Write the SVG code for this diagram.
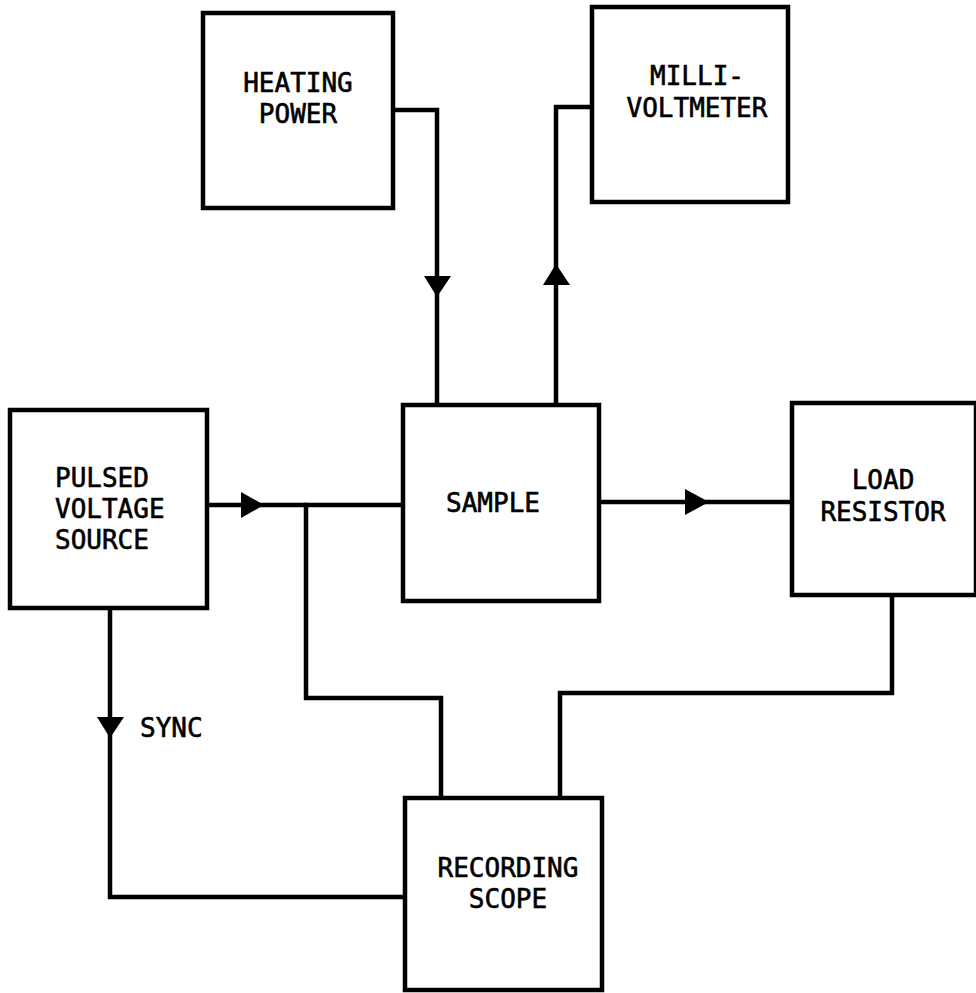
<svg xmlns="http://www.w3.org/2000/svg" width="976" height="993" viewBox="0 0 976 993">
<style>
.box{fill:#fff;stroke:#000;stroke-width:4.5}
.w{fill:none;stroke:#000;stroke-width:4.5;stroke-linejoin:miter;stroke-linecap:square}
.t{font-family:"DejaVu Sans Mono","Liberation Mono",monospace;font-size:26px;fill:#000;stroke:#000;stroke-width:0.6;text-anchor:middle}
.ah{fill:#000}
</style>
<rect width="976" height="993" fill="#fff"/>
<g id="connectors">
<polyline class="w" points="393,110 437,110 437,405"/>
<polygon class="ah" points="424,276 451,276 437,297"/>
<polyline class="w" points="592,107 556,107 556,405"/>
<polygon class="ah" points="543,285 570,285 556,264"/>
<polyline class="w" points="207,505 403,505"/>
<polygon class="ah" points="241,492 241,518 264,505"/>
<polyline class="w" points="598,502 792,502"/>
<polygon class="ah" points="685,489 685,515 709,502"/>
<polyline class="w" points="306,505 306,698 441,698 441,798"/>
<polyline class="w" points="892,595 892,693 560,693 560,798"/>
<polyline class="w" points="110,608 110,897 405,897"/>
<polygon class="ah" points="97,717 124,717 110,738"/>
<text class="t" x="140" y="737" style="text-anchor:start">SYNC</text>
</g>
<g id="heating-power">
<rect class="box" x="203" y="13" width="190" height="195"/>
<text class="t" x="298" y="92">HEATING</text>
<text class="t" x="298" y="123">POWER</text>
</g>
<g id="millivoltmeter">
<rect class="box" x="592" y="7" width="196" height="195"/>
<text class="t" x="697" y="85">MILLI-</text>
<text class="t" x="697" y="117">VOLTMETER</text>
</g>
<g id="sample">
<rect class="box" x="403" y="405" width="196" height="196"/>
<text class="t" x="493" y="512">SAMPLE</text>
</g>
<g id="load-resistor">
<rect class="box" x="792" y="403" width="184" height="192"/>
<text class="t" x="883" y="489">LOAD</text>
<text class="t" x="883" y="521">RESISTOR</text>
</g>
<g id="pulsed-voltage-source">
<rect class="box" x="10" y="410" width="197" height="198"/>
<text class="t" x="55" y="487" style="text-anchor:start">PULSED</text>
<text class="t" x="55" y="518" style="text-anchor:start">VOLTAGE</text>
<text class="t" x="55" y="549" style="text-anchor:start">SOURCE</text>
</g>
<g id="recording-scope">
<rect class="box" x="405" y="798" width="197" height="192"/>
<text class="t" x="508" y="877">RECORDING</text>
<text class="t" x="508" y="908">SCOPE</text>
</g>
</svg>
